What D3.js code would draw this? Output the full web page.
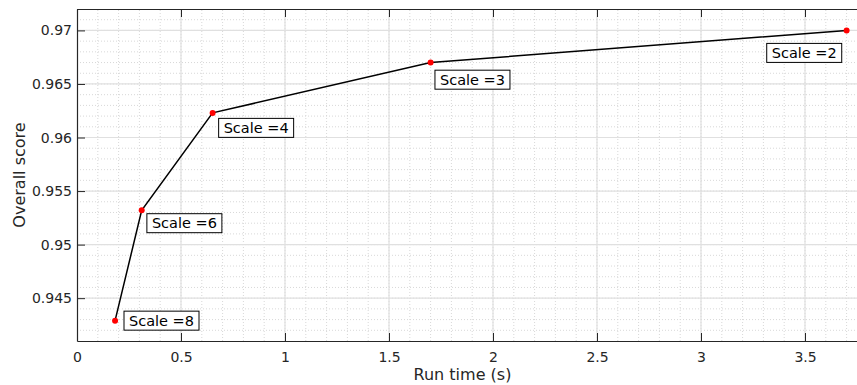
<!DOCTYPE html>
<html>
<head>
<meta charset="utf-8">
<script src="https://cdn.jsdelivr.net/npm/d3@7"></script>
<style>
  body { margin: 0; background: #fff; }
  svg { display: block; font-family: "DejaVu Sans", Verdana, sans-serif; }
</style>
</head>
<body>
<div id="chart"></div>
<script>
// run time (s) vs overall score for each scale
var runTime = [0.183, 0.311, 0.652, 1.70, 3.70];
var score = [0.9429, 0.9532, 0.9623, 0.9670, 0.9700];
var scaleLabels = ["Scale =8", "Scale =6", "Scale =4", "Scale =3", "Scale =2"];
// text anchor positions, in data units
var labelX = [0.25, 0.36, 0.705, 1.745, 3.34];
var labelY = [0.9429, 0.9520, 0.9609, 0.9654, 0.9679];

var xTicks = [0, 0.5, 1, 1.5, 2, 2.5, 3, 3.5];
var yTicks = [0.945, 0.95, 0.955, 0.96, 0.965, 0.97];

var width = 857;
var height = 385;
var margin = { left: 77, top: 9, bottom: 44 };

var x = d3.scaleLinear().domain([0, 3.75]).range([margin.left, margin.left + 3.75 * 208]);
var y = d3.scaleLinear().domain([0.941, 0.972]).range([height - margin.bottom, margin.top]);

var svg = d3.select("#chart").append("svg")
  .attr("width", width)
  .attr("height", height);

var x0 = x.range()[0], x1 = x.range()[1];
var y0 = y.range()[0], y1 = y.range()[1];
var ink = "#262626";

// minor grid
var grid = svg.append("g");
grid.selectAll(".minor-x")
  .data(d3.range(1, 38).map(function (i) { return i / 10; }))
  .enter().append("line")
  .attr("x1", function (d) { return x(d); }).attr("x2", function (d) { return x(d); })
  .attr("y1", y0).attr("y2", y1)
  .attr("stroke", "#d8d8d8").attr("stroke-width", 1).attr("stroke-dasharray", "1,2");
grid.selectAll(".minor-y")
  .data(d3.range(942, 972).map(function (i) { return i / 1000; }))
  .enter().append("line")
  .attr("x1", x0).attr("x2", x1)
  .attr("y1", function (d) { return y(d); }).attr("y2", function (d) { return y(d); })
  .attr("stroke", "#d8d8d8").attr("stroke-width", 1).attr("stroke-dasharray", "1,2");

// major grid
grid.selectAll(".major-x")
  .data(xTicks.slice(1))
  .enter().append("line")
  .attr("x1", function (d) { return x(d); }).attr("x2", function (d) { return x(d); })
  .attr("y1", y0).attr("y2", y1)
  .attr("stroke", "#e0e0e0").attr("stroke-width", 1.2);
grid.selectAll(".major-y")
  .data(yTicks)
  .enter().append("line")
  .attr("x1", x0).attr("x2", x1)
  .attr("y1", function (d) { return y(d); }).attr("y2", function (d) { return y(d); })
  .attr("stroke", "#e0e0e0").attr("stroke-width", 1.2);

// axes
var xAxis = svg.append("g")
  .attr("transform", "translate(0," + y0 + ")")
  .call(d3.axisBottom(x).tickValues(xTicks).tickSizeInner(-8).tickSizeOuter(0).tickPadding(11)
    .tickFormat(d3.format("")));
var xTop = svg.append("g")
  .attr("transform", "translate(0," + y1 + ")")
  .call(d3.axisTop(x).tickValues(xTicks).tickSizeInner(-8).tickSizeOuter(0).tickFormat(""));
var yAxis = svg.append("g")
  .attr("transform", "translate(" + x0 + ",0)")
  .call(d3.axisLeft(y).tickValues(yTicks).tickSizeInner(-8).tickSizeOuter(0).tickPadding(5)
    .tickFormat(d3.format("")));

[xAxis, xTop, yAxis].forEach(function (g) {
  g.select(".domain").attr("stroke", ink).attr("stroke-width", 1.2);
  g.selectAll(".tick line").attr("stroke", ink).attr("stroke-width", 1);
  g.selectAll(".tick text").attr("fill", ink)
    .style("font-family", "'DejaVu Sans', Verdana, sans-serif").style("font-size", "14px");
});
xAxis.selectAll(".tick line").filter(function (d) { return d === 0; }).remove();

svg.append("text")
  .attr("x", (x0 + 848) / 2).attr("y", 380)
  .attr("text-anchor", "middle").attr("fill", ink).style("font-size", "16px")
  .text("Run time (s)");
svg.append("text")
  .attr("transform", "translate(25," + ((y0 + y1) / 2) + ") rotate(-90)")
  .attr("text-anchor", "middle").attr("fill", ink).style("font-size", "16px")
  .text("Overall score");

// line
var line = d3.line()
  .x(function (d, i) { return x(runTime[i]); })
  .y(function (d) { return y(d); });
svg.append("path")
  .datum(score)
  .attr("d", line)
  .attr("fill", "none").attr("stroke", "#000").attr("stroke-width", 1.5);

svg.selectAll(".pt")
  .data(score)
  .enter().append("circle")
  .attr("cx", function (d, i) { return x(runTime[i]); })
  .attr("cy", function (d) { return y(d); })
  .attr("r", 3)
  .attr("fill", "#ff0000");

// labels
var labels = svg.selectAll(".lab")
  .data(scaleLabels)
  .enter().append("g")
  .attr("transform", function (d, i) { return "translate(" + x(labelX[i]) + "," + y(labelY[i]) + ")"; });
labels.append("text")
  .attr("dy", "0.36em")
  .attr("fill", "#000").style("font-size", "14.5px")
  .text(function (d) { return d; });
labels.each(function () {
  var g = d3.select(this);
  var b = g.select("text").node().getBBox();
  g.insert("rect", "text")
    .attr("x", b.x - 5).attr("y", -9.5)
    .attr("width", b.width + 10).attr("height", 19)
    .attr("fill", "#fff").attr("stroke", "#000").attr("stroke-width", 1);
});
</script>
</body>
</html>
